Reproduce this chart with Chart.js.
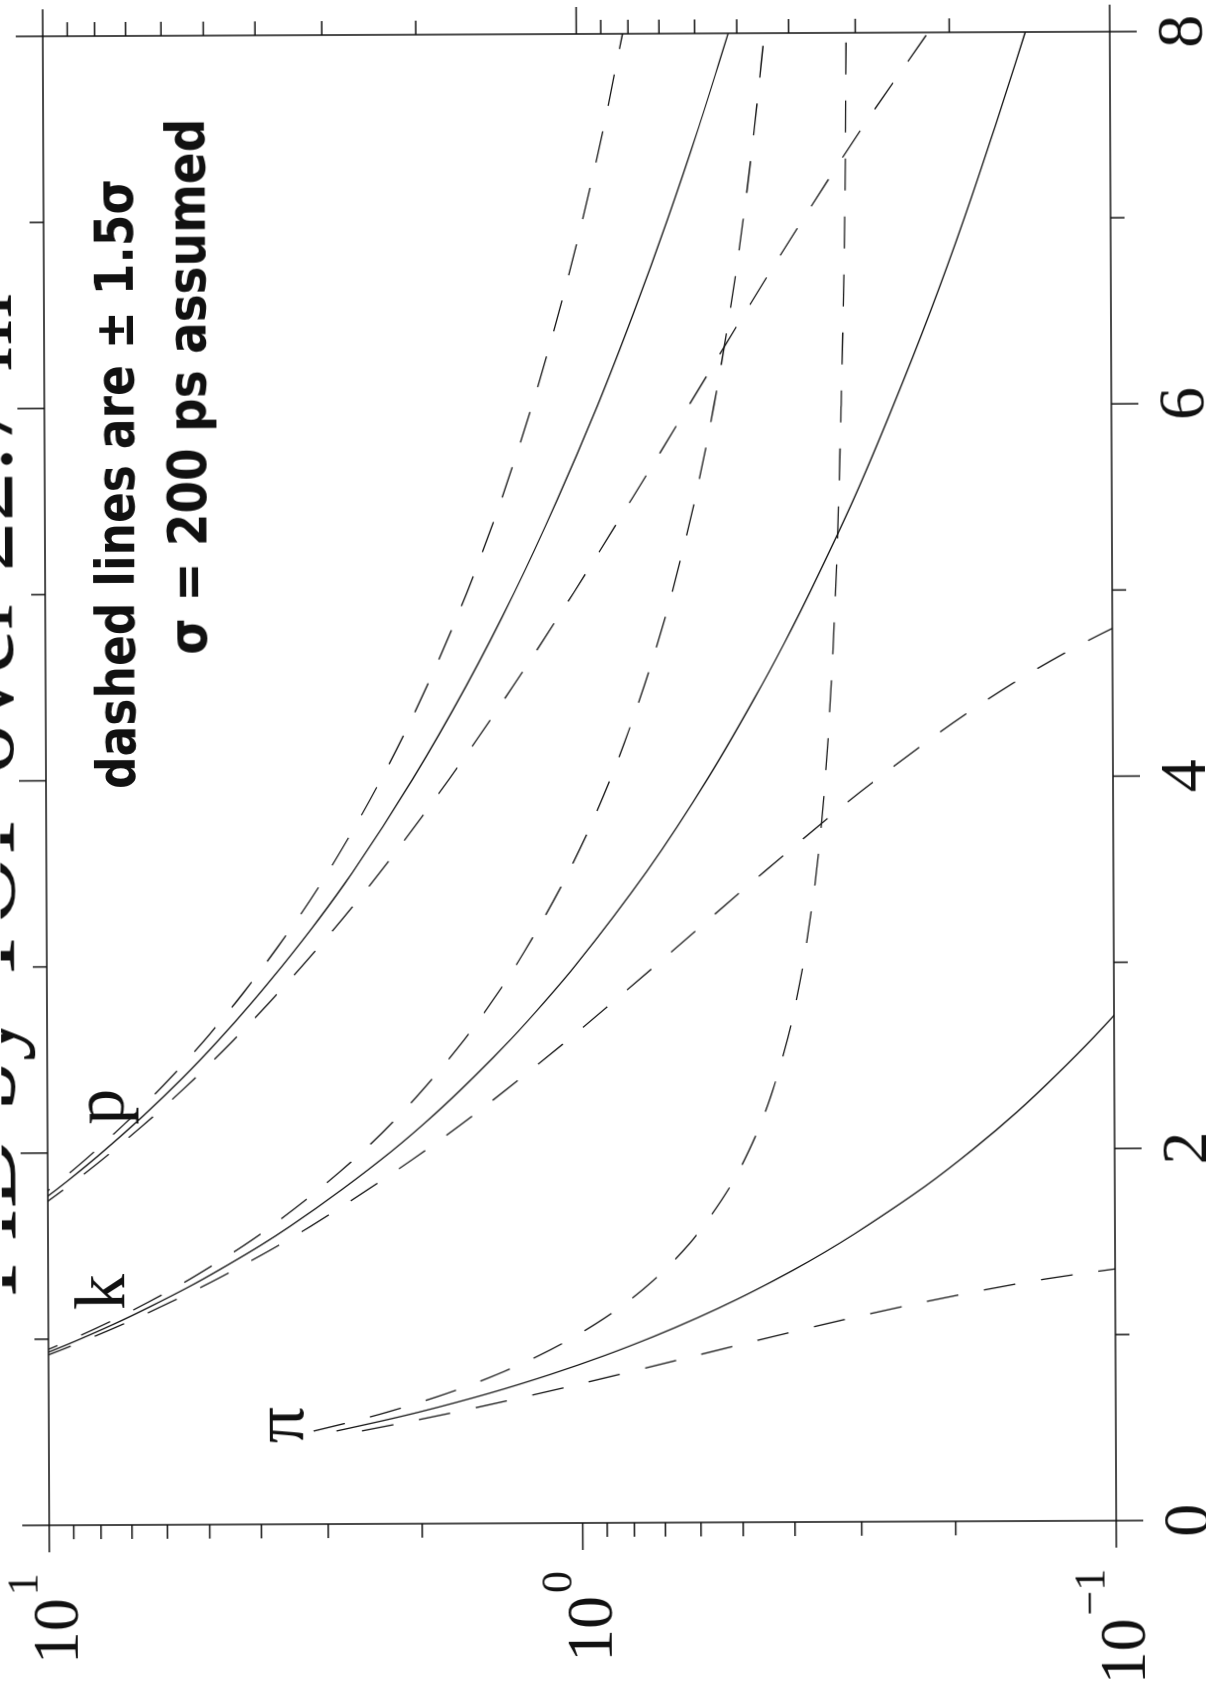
<!DOCTYPE html>
<html>
<head>
<meta charset="utf-8">
<script src="https://cdn.jsdelivr.net/npm/chart.js@4.4.1/dist/chart.umd.min.js"></script>
<style>
  html, body { margin: 0; padding: 0; background: #fff; overflow: hidden; }
  body { width: 1206px; height: 1684px; position: relative; }
  /* the plot is drawn landscape and turned a quarter turn (plus the small scan skew) */
  #wrap {
    position: absolute; left: 0; top: 0;
    width: 1684px; height: 1206px;
    transform-origin: 0 0;
    transform: translate(3.95px, 1686.5px) rotate(-90.25deg);
  }
</style>
</head>
<body>
<div id="wrap"><canvas id="tof" width="1684" height="1206"></canvas></div>
<script>
// time of flight difference (ns) vs momentum (GeV/c)
const piMomentum = [0.5, 0.55, 0.6, 0.7, 0.8, 0.9, 1.0, 1.1, 1.2, 1.3, 1.4, 1.5, 1.6, 1.8, 2.0, 2.2, 2.4, 2.6, 2.8, 3.0, 3.5, 4.0, 5.0, 6.0, 7.0, 8.0];
const piTime  = [2.89, 2.40, 2.02, 1.49, 1.144, 0.905, 0.734, 0.607, 0.510, 0.435, 0.375, 0.327, 0.288, 0.227, 0.184, 0.152, 0.128, 0.109, 0.094, 0.082, 0.060, 0.046, 0.030, 0.021, 0.015, 0.0115];
const piUpper = [3.19, 2.70, 2.32, 1.79, 1.444, 1.205, 1.034, 0.907, 0.810, 0.735, 0.675, 0.627, 0.588, 0.527, 0.484, 0.452, 0.428, 0.409, 0.394, 0.382, 0.360, 0.346, 0.330, 0.321, 0.315, 0.312];
const piLower = [2.59, 2.10, 1.72, 1.19, 0.844, 0.605, 0.434, 0.307, 0.210, 0.135, 0.075, null, null, null, null, null, null, null, null, null, null, null, null, null, null, null];

const kMomentum = [0.9, 0.94, 1.0, 1.1, 1.2, 1.3, 1.4, 1.5, 1.6, 1.8, 2.0, 2.2, 2.4, 2.6, 2.8, 3.0, 3.5, 4.0, 4.5, 4.8, 5.0, 5.5, 6.0, 6.5, 7.0, 7.5, 8.0];
const kTime  = [10.64, 9.80, 8.72, 7.27, 6.16, 5.27, 4.57, 3.99, 3.52, 2.80, 2.27, 1.88, 1.585, 1.352, 1.168, 1.018, 0.749, 0.574, 0.454, 0.399, 0.368, 0.304, 0.256, 0.218, 0.188, 0.164, 0.144];
const kUpper = [10.94, 10.10, 9.02, 7.57, 6.46, 5.57, 4.87, 4.29, 3.82, 3.10, 2.57, 2.18, 1.885, 1.652, 1.468, 1.318, 1.049, 0.874, 0.754, 0.699, 0.668, 0.604, 0.556, 0.518, 0.488, 0.464, 0.444];
const kLower = [10.34, 9.50, 8.42, 6.97, 5.86, 4.97, 4.27, 3.69, 3.22, 2.50, 1.97, 1.58, 1.285, 1.052, 0.868, 0.718, 0.449, 0.274, 0.154, 0.099, 0.068, null, null, null, null, null, null];

const prMomentum = [1.7, 1.8, 1.9, 2.0, 2.2, 2.4, 2.6, 2.8, 3.0, 3.25, 3.5, 4.0, 4.5, 5.0, 5.5, 6.0, 6.5, 7.0, 7.5, 8.0];
const prTime  = [10.77, 9.67, 8.73, 7.92, 6.60, 5.58, 4.78, 4.14, 3.62, 3.09, 2.67, 2.055, 1.628, 1.321, 1.094, 0.920, 0.785, 0.677, 0.590, 0.519];
const prUpper = [11.07, 9.97, 9.03, 8.22, 6.90, 5.88, 5.08, 4.44, 3.92, 3.39, 2.97, 2.355, 1.928, 1.621, 1.394, 1.220, 1.085, 0.977, 0.890, 0.819];
const prLower = [10.47, 9.37, 8.43, 7.62, 6.30, 5.28, 4.48, 3.84, 3.32, 2.79, 2.37, 1.755, 1.328, 1.021, 0.794, 0.620, 0.485, 0.377, 0.290, 0.219];

const pTicks = [0, 1, 2, 3, 4, 5, 6, 7, 8];
const pLabelled = [0, 2, 4, 6, 8];
const logTicks = [0.1, 0.2, 0.3, 0.4, 0.5, 0.6, 0.7, 0.8, 0.9, 1, 2, 3, 4, 5, 6, 7, 8, 9, 10];
const decades = [0.1, 1, 10];
const decadeExp = ['\u22121', '0', '1'];

const curveNames = [
  { text: '\u03c0', p: 0.435, t: 3.34 },
  { text: 'k', p: 1.155, t: 7.2 },
  { text: 'p', p: 2.15, t: 7.2 }
];

const DASH = [32, 26];

function curve(mom, vals, dashed) {
  return {
    data: mom.map((p, i) => ({ x: p, y: vals[i] })),
    borderDash: dashed ? DASH : [],
    spanGaps: false,
    fill: false
  };
}

const SERIF = '"Liberation Serif", "DejaVu Serif", serif';

const frame = {
  id: 'frame',
  afterDatasetsDraw(chart) {
    const { ctx, chartArea: a, scales: { x, y } } = chart;
    ctx.save();
    ctx.strokeStyle = '#111';
    ctx.fillStyle = '#111';
    ctx.lineWidth = 1.5;
    ctx.strokeRect(a.left, a.top, a.right - a.left, a.bottom - a.top);

    // ticks point outwards on every side
    ctx.beginPath();
    pTicks.forEach(p => {
      const px = x.getPixelForValue(p);
      const len = p % 2 === 0 ? 27 : 14;
      ctx.moveTo(px, a.bottom); ctx.lineTo(px, a.bottom + len);
      ctx.moveTo(px, a.top); ctx.lineTo(px, a.top - len);
    });
    logTicks.forEach(v => {
      const py = y.getPixelForValue(v);
      const len = decades.includes(v) ? 27 : 14;
      ctx.moveTo(a.left, py); ctx.lineTo(a.left - len, py);
      ctx.moveTo(a.right, py); ctx.lineTo(a.right + len, py);
    });
    ctx.stroke();

    // momentum labels
    ctx.font = '66px ' + SERIF;
    ctx.textAlign = 'center';
    ctx.textBaseline = 'alphabetic';
    pLabelled.forEach(p => ctx.fillText(String(p), x.getPixelForValue(p), a.bottom + 92));

    // decade labels 10^n
    decades.forEach((v, i) => {
      const py = y.getPixelForValue(v);
      ctx.font = '44px ' + SERIF;
      ctx.textAlign = 'right';
      const supW = ctx.measureText(decadeExp[i]).width;
      ctx.fillText(decadeExp[i], a.left - 48, py - 12);
      ctx.font = '66px ' + SERIF;
      ctx.fillText('10', a.left - 48 - supW - 3, py + 28);
    });

    // particle names at the start of each band
    ctx.font = '72px ' + SERIF;
    ctx.textAlign = 'left';
    curveNames.forEach(c => ctx.fillText(c.text, x.getPixelForValue(c.p), y.getPixelForValue(c.t)));

    // title, mostly cut off by the top of the page
    ctx.font = '100px ' + SERIF;
    ctx.textAlign = 'center';
    ctx.fillText('PID by TOF over 22.7 m', 891, 13);

    // handwritten note
    ctx.font = 'bold 54px "DejaVu Sans", sans-serif';
    ctx.textAlign = 'left';
    ctx.fillText('dashed lines are \u00b1 1.5\u03c3', 897, 135, 610);
    ctx.fillText('\u03c3 = 200 ps assumed', 1031, 207, 536);
    ctx.restore();
  }
};

new Chart(document.getElementById('tof'), {
  type: 'line',
  data: {
    datasets: [
      curve(piMomentum, piTime, false),
      curve(piMomentum, piUpper, true),
      curve(piMomentum, piLower, true),
      curve(kMomentum, kTime, false),
      curve(kMomentum, kUpper, true),
      curve(kMomentum, kLower, true),
      curve(prMomentum, prTime, false),
      curve(prMomentum, prUpper, true),
      curve(prMomentum, prLower, true)
    ]
  },
  options: {
    responsive: false,
    animation: false,
    layout: { padding: { left: 161, right: 34, top: 46, bottom: 93 } },
    plugins: { legend: { display: false }, tooltip: { enabled: false } },
    elements: {
      point: { radius: 0 },
      line: { borderWidth: 1.3, borderColor: '#151515', cubicInterpolationMode: 'monotone' }
    },
    scales: {
      x: { type: 'linear', min: 0, max: 8, display: false },
      y: { type: 'logarithmic', min: 0.1, max: 10, display: false }
    }
  },
  plugins: [frame]
});
</script>
</body>
</html>
